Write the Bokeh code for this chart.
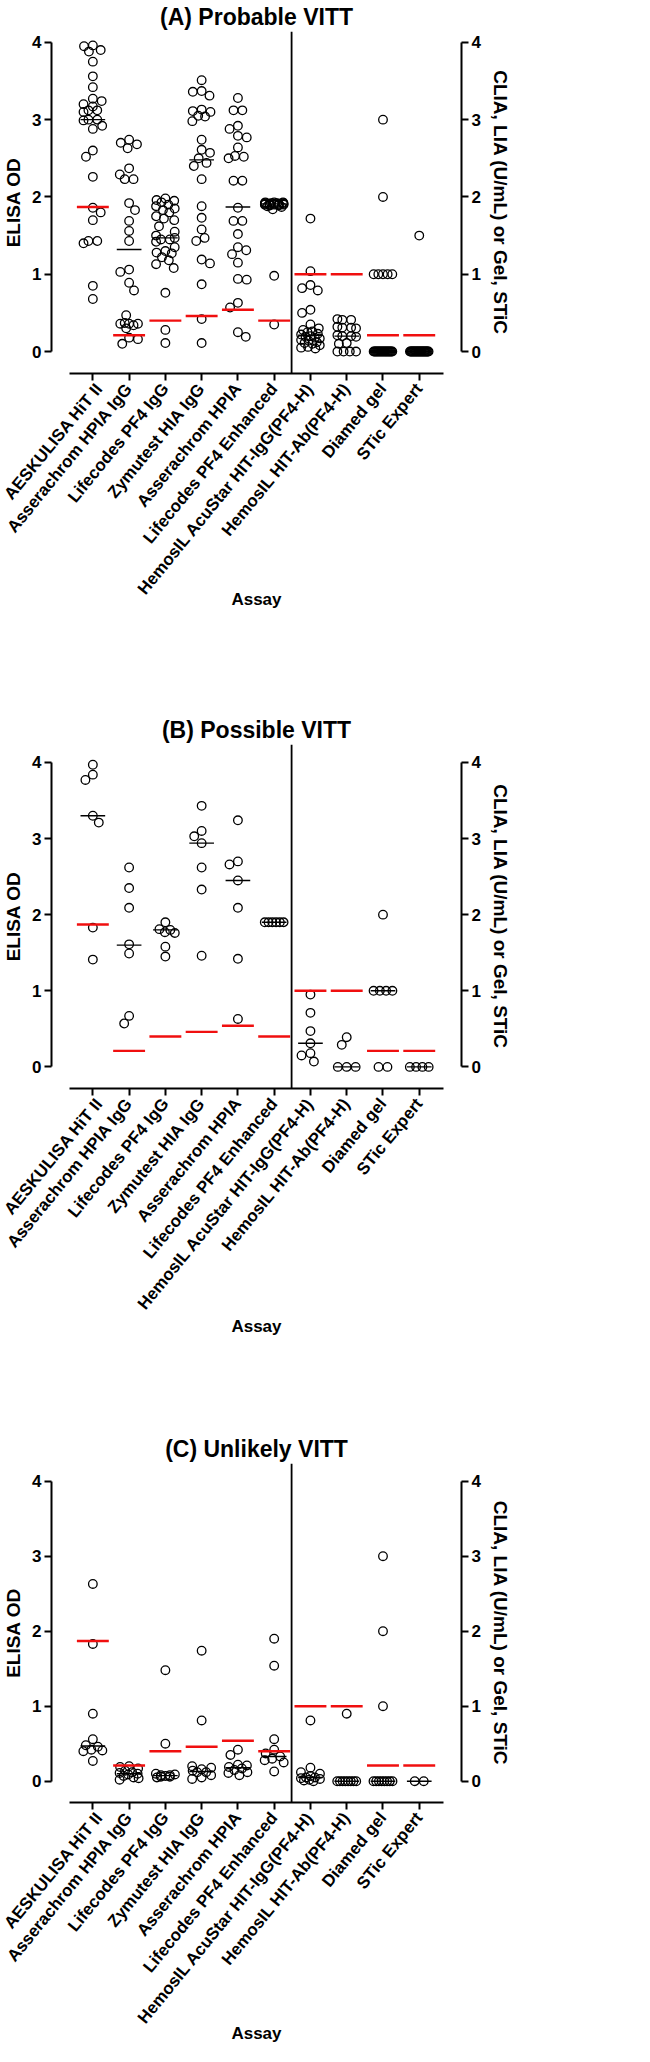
import numpy as np
from bokeh.plotting import figure
from bokeh.models import Range1d, LinearAxis, FixedTicker, Span, ColumnDataSource
from bokeh.layouts import column
from bokeh.embed import file_html
from bokeh.resources import INLINE

FONT = "Liberation Sans"

# ---------------- data ----------------
assays = ["AESKULISA HiT II", "Asserachrom HPIA IgG", "Lifecodes PF4 IgG",
          "Zymutest HIA IgG", "Asserachrom HPIA", "Lifecodes PF4 Enhanced",
          "HemosIL AcuStar HIT-IgG(PF4-H)", "HemosIL HIT-Ab(PF4-H)",
          "Diamed gel", "STic Expert"]
cutoffs = [1.87, 0.21, 0.40, 0.46, 0.54, 0.40, 1.00, 1.00, 0.21, 0.21]
y_ticks = [0, 1, 2, 3, 4]
titles = ["(A) Probable VITT", "(B) Possible VITT", "(C) Unlikely VITT"]

probable = [
    [3.96, 3.95, 3.90, 3.88, 3.75, 3.56, 3.42, 3.27, 3.24, 3.20, 3.17, 3.12, 3.12, 3.10, 3.00,
     3.00, 2.99, 2.92, 2.88, 2.60, 2.52, 2.26, 1.86, 1.80, 1.70, 1.43, 1.43, 1.40, 0.85, 0.68],
    [2.74, 2.70, 2.68, 2.63, 2.37, 2.29, 2.23, 2.23, 1.92, 1.83, 1.69, 1.56, 1.43, 1.06, 1.03,
     0.89, 0.79, 0.47, 0.37, 0.36, 0.36, 0.36, 0.34, 0.30, 0.18, 0.16, 0.10],
    [1.98, 1.96, 1.95, 1.93, 1.90, 1.88, 1.85, 1.83, 1.80, 1.75, 1.72, 1.70, 1.62, 1.55, 1.50,
     1.47, 1.45, 1.45, 1.42, 1.35, 1.30, 1.28, 1.27, 1.22, 1.18, 1.13, 1.08, 0.76, 0.28, 0.11],
    [3.51, 3.37, 3.36, 3.31, 3.13, 3.11, 3.10, 3.05, 3.04, 2.98, 2.74, 2.61, 2.57, 2.50, 2.44,
     2.40, 2.23, 1.88, 1.73, 1.58, 1.47, 1.43, 1.19, 1.14, 0.87, 0.42, 0.11],
    [3.28, 3.12, 3.12, 2.92, 2.88, 2.79, 2.77, 2.64, 2.53, 2.52, 2.50, 2.21, 2.21, 1.86, 1.69,
     1.69, 1.52, 1.35, 1.31, 1.26, 1.15, 0.94, 0.93, 0.63, 0.57, 0.25, 0.19],
    [1.93, 1.93, 1.93, 1.92, 1.92, 1.92, 1.92, 1.91, 1.91, 1.91, 1.91, 1.91, 1.90, 1.90, 1.90,
     1.90, 1.90, 1.89, 1.89, 1.88, 1.87, 1.84, 0.98, 0.35],
    [1.72, 1.04, 0.86, 0.82, 0.79, 0.54, 0.50, 0.35, 0.30, 0.28, 0.26, 0.25, 0.23, 0.22, 0.20,
     0.19, 0.18, 0.17, 0.15, 0.14, 0.12, 0.11, 0.10, 0.08, 0.06, 0.05, 0.04],
    [0.42, 0.41, 0.41, 0.32, 0.31, 0.31, 0.30, 0.21, 0.20, 0.20, 0.19, 0.11, 0.10,
     0.0, 0.0, 0.0, 0.0],
    [3.0, 2.0, 1.0, 1.0, 1.0, 1.0, 1.0, 0.0, 0.0, 0.0, 0.0, 0.0, 0.0, 0.0, 0.0, 0.0, 0.0,
     0.0, 0.0, 0.0, 0.0, 0.0, 0.0, 0.0, 0.0, 0.0, 0.0],
    [1.5, 0.0, 0.0, 0.0, 0.0, 0.0, 0.0, 0.0, 0.0, 0.0, 0.0, 0.0, 0.0, 0.0, 0.0, 0.0, 0.0,
     0.0, 0.0, 0.0, 0.0, 0.0, 0.0, 0.0, 0.0],
]
probable_medians = [3.00, 1.32, 1.47, 2.48, 1.87, 1.91, 0.21, 0.20, 0.0, 0.0]

possible = [
    [3.97, 3.84, 3.77, 3.30, 3.21, 1.83, 1.41],
    [2.62, 2.35, 2.09, 1.61, 1.49, 0.67, 0.57],
    [1.90, 1.81, 1.80, 1.77, 1.76, 1.58, 1.45],
    [3.43, 3.10, 3.03, 2.94, 2.62, 2.33, 1.46],
    [3.24, 2.70, 2.66, 2.45, 2.09, 1.42, 0.63],
    [1.90, 1.90, 1.90, 1.90, 1.90, 1.90],
    [0.95, 0.71, 0.47, 0.31, 0.18, 0.15, 0.07],
    [0.39, 0.29, 0.0, 0.0, 0.0],
    [2.0, 1.0, 1.0, 1.0, 1.0, 0.0, 0.0],
    [0.0, 0.0, 0.0, 0.0],
]
possible_medians = [3.30, 1.60, 1.80, 2.94, 2.45, 1.90, 0.31, 0.0, 1.0, 0.0]

unlikely = [
    [2.63, 1.83, 0.90, 0.56, 0.48, 0.46, 0.42, 0.41, 0.40, 0.27],
    [0.20, 0.19, 0.17, 0.14, 0.12, 0.11, 0.10, 0.09, 0.07, 0.05, 0.04, 0.02],
    [1.48, 0.50, 0.10, 0.09, 0.08, 0.08, 0.07, 0.06, 0.06, 0.05],
    [1.74, 0.81, 0.20, 0.18, 0.16, 0.14, 0.12, 0.12, 0.08, 0.05, 0.03],
    [0.42, 0.35, 0.22, 0.21, 0.19, 0.17, 0.15, 0.12, 0.11, 0.08],
    [1.90, 1.54, 0.56, 0.42, 0.37, 0.33, 0.30, 0.28, 0.25, 0.13],
    [0.81, 0.18, 0.12, 0.10, 0.07, 0.05, 0.05, 0.04, 0.03, 0.02, 0.01, 0.0],
    [0.90, 0.0, 0.0, 0.0, 0.0, 0.0, 0.0, 0.0, 0.0],
    [3.0, 2.0, 1.0, 0.0, 0.0, 0.0, 0.0, 0.0, 0.0, 0.0, 0.0],
    [0.0, 0.0],
]
unlikely_medians = [0.47, 0.10, 0.075, 0.13, 0.18, 0.33, 0.05, 0.0, 0.0, 0.0]


# ---------------- layout helpers ----------------
def swarm_offsets(vals, xu, yu, d=9.0, half=9.5):
    """Scatter-dot-plot arrangement computed in pixel space; returns x offsets in data units."""
    n = len(vals)
    offs = np.zeros(n)
    px, py = [], []
    done = [False] * n
    groups = {}
    for k, v in enumerate(vals):
        groups.setdefault(v, []).append(k)
    for v, ks in groups.items():
        if len(ks) > 1:
            m = len(ks)
            sp = min(d, 2 * half / (m - 1))
            for j, k in enumerate(ks):
                offs[k] = (j - (m - 1) / 2) * sp
                px.append(offs[k]); py.append(v * yu); done[k] = True
    cands = np.arange(-half, half + 1e-9, 0.5)
    last = 1.0
    for k in sorted(range(n), key=lambda q: -vals[q]):
        if done[k]:
            continue
        y = vals[k] * yu
        if px:
            ax_ = np.array(px); ay_ = np.array(py)
            dist = np.sqrt((cands[:, None] - ax_[None, :]) ** 2 + (y - ay_)[None, :] ** 2).min(axis=1)
        else:
            dist = np.full(cands.shape, np.inf)
        ok = np.where(dist >= d)[0]
        if len(ok):
            score = np.abs(cands[ok]) + 1e-3 * cands[ok] * last
            c = cands[ok[np.argmin(score)]]
        else:
            score = dist - 1e-3 * np.abs(cands)
            c = cands[np.argmax(score)]
        if c != 0:
            last = np.sign(c)
        offs[k] = c
        px.append(c); py.append(y)
    return offs / xu


X0, X1 = -1.14, 10.165
Y0 = -0.284
W = 634
LEFT = 51


def style_axis(ax, label_size="17px"):
    ax.axis_line_width = 2
    ax.axis_line_color = "black"
    ax.major_tick_line_width = 2
    ax.major_tick_line_color = "black"
    ax.major_tick_out = 7
    ax.major_tick_in = 0
    ax.minor_tick_line_color = None
    ax.major_label_text_font = FONT
    ax.major_label_text_font_style = "bold"
    ax.major_label_text_font_size = label_size
    ax.major_label_text_color = "black"
    ax.axis_label_text_font = FONT
    ax.axis_label_text_font_style = "bold"
    ax.axis_label_text_color = "black"


def make_panel(title, data, medians, y_end, fw, fh, top, bottom, assay_standoff):
    p = figure(width=W, height=top + fh + bottom,
               x_range=Range1d(X0, X1), y_range=Range1d(Y0, y_end),
               output_backend="svg", toolbar_location=None,
               min_border_left=LEFT, min_border_right=W - LEFT - fw,
               min_border_top=top, min_border_bottom=bottom, title=title)
    p.grid.visible = False
    p.outline_line_color = None
    p.background_fill_color = "white"
    p.border_fill_color = "white"

    p.title.align = "center"
    p.title.text_font = FONT
    p.title.text_font_style = "bold"
    p.title.text_font_size = "23px"
    p.title.text_color = "black"
    p.title.standoff = 3

    xu = fw / (X1 - X0)
    yu = fh / (y_end - Y0)

    xs, ys = [], []
    for i, vals in enumerate(data):
        offs = swarm_offsets(vals, xu, yu)
        xs.extend(list(i + offs))
        ys.extend(vals)
    src = ColumnDataSource(dict(x=xs, y=ys))
    p.scatter("x", "y", source=src, marker="circle", size=8.6,
              fill_color=None, line_color="black", line_width=1.3)

    idx = np.arange(len(assays))
    p.segment(x0=idx - 0.34, x1=idx + 0.34, y0=medians, y1=medians,
              line_color="black", line_width=1.4)
    p.segment(x0=idx - 0.44, x1=idx + 0.44, y0=cutoffs, y1=cutoffs,
              line_color="#f00f0f", line_width=2.4)

    p.add_layout(Span(location=5.48, dimension="height", line_color="black", line_width=1.8))

    # x axis
    xa = p.xaxis[0]
    style_axis(xa, "17px")
    xa.ticker = FixedTicker(ticks=list(range(len(assays))))
    xa.major_label_overrides = {i: a for i, a in enumerate(assays)}
    xa.bounds = (-0.65, 9.67)
    xa.major_label_orientation = 0.885
    xa.major_label_standoff = 5
    xa.axis_label = "Assay"
    xa.axis_label_text_font_size = "17px"
    xa.axis_label_standoff = assay_standoff

    # left y axis
    ya = p.yaxis[0]
    style_axis(ya)
    ya.ticker = FixedTicker(ticks=y_ticks)
    ya.bounds = (0, 4)
    ya.major_label_standoff = 3
    ya.axis_label = "ELISA OD"
    ya.axis_label_text_font_size = "19px"
    ya.axis_label_standoff = 5

    # right y axis
    p.extra_y_ranges = {"right": Range1d(Y0, y_end)}
    ra = LinearAxis(y_range_name="right", ticker=FixedTicker(ticks=y_ticks), bounds=(0, 4),
                    axis_label="CLIA, LIA (U/mL) or Gel, STiC")
    style_axis(ra)
    ra.major_label_standoff = 3
    ra.axis_label_text_font_size = "19px"
    ra.axis_label_standoff = 6
    p.add_layout(ra, "right")
    return p


pA = make_panel(titles[0], probable, probable_medians, 4.14, 418, 343, 30, 340, -17)
pB = make_panel(titles[1], possible, possible_medians, 4.236, 414, 345, 30, 344, -5)
pC = make_panel(titles[2], unlikely, unlikely_medians, 4.236, 410, 344, 30, 240, -12)

layout = column(pA, pB, pC, spacing=0)
open("out.html", "w").write(file_html(layout, INLINE))
